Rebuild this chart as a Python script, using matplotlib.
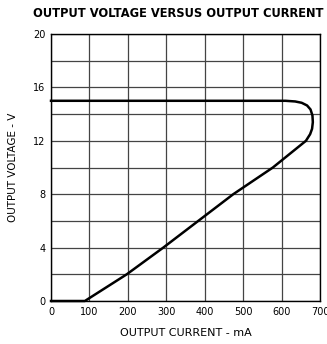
import matplotlib.pyplot as plt
from matplotlib.ticker import MultipleLocator

# ---------------- DATA ----------------
# output current (mA) and output voltage (V) along the curve
current_ma = [0, 200, 400, 560, 610, 635, 652, 666, 675, 680, 681, 679, 674, 663, 620, 577, 474, 383, 292, 197, 88, 0]
voltage_v = [15, 15, 15, 15, 15, 14.95, 14.85, 14.65, 14.35, 13.9, 13.4, 12.9, 12.5, 12, 11, 10, 8, 6, 4, 2, 0, 0]

x_ticks = [0, 100, 200, 300, 400, 500, 600, 700]
y_ticks = [0, 4, 8, 12, 16, 20]

plt.rcParams['font.family'] = ['DejaVu Sans']

fig = plt.figure(figsize=(3.27, 3.44), dpi=100)
ax = fig.add_axes([0.156, 0.125, 0.823, 0.776])

# ---------------- GRID ----------------
ax.set_xlim(0, 700)
ax.set_ylim(0, 20)
ax.set_xticks(x_ticks)
ax.set_yticks(y_ticks)
ax.yaxis.set_minor_locator(MultipleLocator(2))
ax.grid(True, which='both', color='#444444', linewidth=0.9)
ax.set_axisbelow(True)
ax.tick_params(which='both', length=0, labelsize=7, pad=4)

for s in ax.spines.values():
    s.set_color('black')
    s.set_linewidth(1.0)

# ---------------- CURVE ----------------
ax.plot(current_ma, voltage_v, color='black', linewidth=1.8, solid_joinstyle='round', clip_on=False)

# ---------------- LABELS ----------------
ax.set_xlabel('OUTPUT CURRENT - mA', fontsize=8, labelpad=8)
ax.set_ylabel('OUTPUT VOLTAGE - V', fontsize=7.5, labelpad=11)
fig.text(0.545, 0.962, 'OUTPUT VOLTAGE VERSUS OUTPUT CURRENT', fontsize=8.3,
         fontweight='bold', ha='center', va='center')

fig.savefig('out.png', dpi=100)
